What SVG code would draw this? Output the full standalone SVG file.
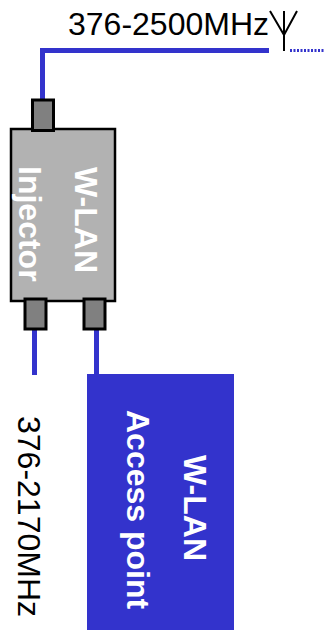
<svg xmlns="http://www.w3.org/2000/svg" width="324" height="630" viewBox="0 0 324 630">
<style>
.wire{fill:none;stroke:#3333cc;stroke-width:5}
.port{fill:#808080;stroke:#000;stroke-width:3}
.t{font-family:"Liberation Sans",Arial,sans-serif;font-size:32px}
.b{font-family:"Liberation Sans",Arial,sans-serif;font-size:32px;font-weight:bold;fill:#fff}
</style>
<rect width="324" height="630" fill="#fff"/>
<g id="connectors">
<path class="wire" d="M269 50.500H42.500V100"/>
<path d="M290 50.500H324" fill="none" stroke="#3333cc" stroke-width="3" stroke-dasharray="2 1.500"/>
<path class="wire" d="M34.500 330V375"/>
<path class="wire" d="M96.500 330V375"/>
</g>
<g id="antenna"><path d="M270 11L284 35L297 11M284 11V51" fill="none" stroke="#000" stroke-width="2"/></g>
<g id="injector">
<rect x="11" y="129" width="104" height="172" fill="#b2b2b2" stroke="#000" stroke-width="2.500"/>
<rect class="port" x="32.500" y="100" width="21" height="30.500"/>
<rect class="port" x="25" y="299" width="21" height="30"/>
<rect class="port" x="84" y="299" width="21" height="30"/>
<text class="b" transform="translate(75 167) rotate(90)">W-LAN</text>
<text class="b" transform="translate(19 166) rotate(90)">Injector</text>
</g>
<g id="access-point">
<rect x="87" y="374" width="147" height="256" fill="#3333cc"/>
<text class="b" transform="translate(184 455) rotate(90)">W-LAN</text>
<text class="b" transform="translate(127 410) rotate(90)">Access point</text>
</g>
<text class="t" x="68" y="35">376-2500MHz</text>
<text class="t" transform="translate(18 416) rotate(90)">376-2170MHz</text>
</svg>
